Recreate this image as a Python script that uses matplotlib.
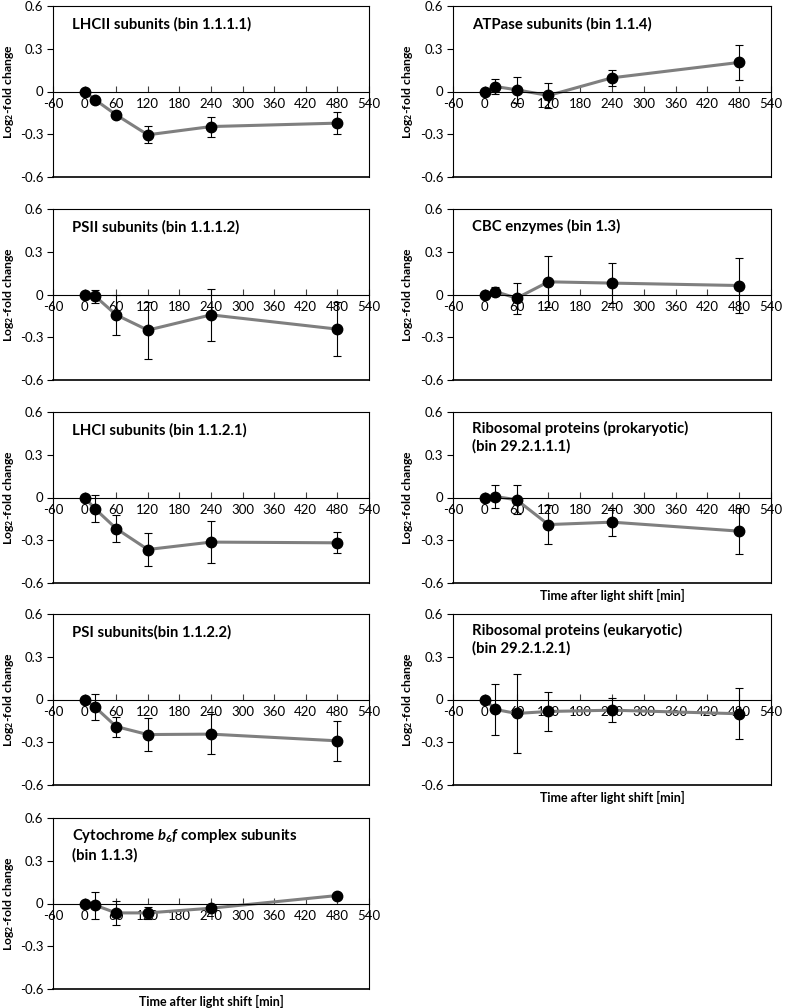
import matplotlib
matplotlib.use("Agg")
import matplotlib.pyplot as plt
import numpy as np

plt.rcParams['font.family'] = ['Lato', 'DejaVu Sans']
plt.rcParams['mathtext.fontset'] = 'custom'
plt.rcParams['mathtext.rm'] = 'Lato:bold'
plt.rcParams['mathtext.bf'] = 'Lato:bold'
plt.rcParams['mathtext.it'] = 'Lato:bold:italic'

# time points (min)
time = [0, 20, 60, 120, 240, 480]

titles = [
    "LHCII subunits (bin 1.1.1.1)",
    "ATPase subunits (bin 1.1.4)",
    "PSII subunits (bin 1.1.1.2)",
    "CBC enzymes (bin 1.3)",
    "LHCI subunits (bin 1.1.2.1)",
    "Ribosomal proteins (prokaryotic)\n(bin 29.2.1.1.1)",
    "PSI subunits(bin 1.1.2.2)",
    "Ribosomal proteins (eukaryotic)\n(bin 29.2.1.2.1)",
    "Cytochrome $b_{6}f$ complex subunits\n(bin 1.1.3)",
]

lhcii_mean = [0, -0.058, -0.164, -0.304, -0.246, -0.222]
lhcii_err = [0, 0.02, 0.025, 0.06, 0.07, 0.075]

atpase_mean = [0, 0.035, 0.012, -0.028, 0.096, 0.204]
atpase_err = [0, 0.05, 0.09, 0.09, 0.055, 0.12]

psii_mean = [0, -0.012, -0.143, -0.25, -0.143, -0.243]
psii_err = [0, 0.045, 0.14, 0.2, 0.18, 0.19]

cbc_mean = [0, 0.021, -0.026, 0.089, 0.08, 0.063]
cbc_err = [0, 0.035, 0.11, 0.18, 0.14, 0.19]

lhci_mean = [0, -0.08, -0.218, -0.365, -0.313, -0.318]
lhci_err = [0, 0.095, 0.095, 0.117, 0.15, 0.073]

ribo_prok_mean = [0, 0.007, -0.016, -0.19, -0.173, -0.236]
ribo_prok_err = [0, 0.078, 0.103, 0.135, 0.1, 0.16]

psi_mean = [0, -0.054, -0.19, -0.246, -0.243, -0.29]
psi_err = [0, 0.09, 0.07, 0.117, 0.14, 0.14]

ribo_euk_mean = [0, -0.07, -0.098, -0.084, -0.075, -0.1]
ribo_euk_err = [0, 0.18, 0.28, 0.14, 0.085, 0.18]

cyt_mean = [0, -0.012, -0.066, -0.066, -0.033, 0.056]
cyt_err = [0, 0.095, 0.085, 0.04, 0.01, 0.02]

means = [lhcii_mean, atpase_mean, psii_mean, cbc_mean, lhci_mean,
         ribo_prok_mean, psi_mean, ribo_euk_mean, cyt_mean]
errs = [lhcii_err, atpase_err, psii_err, cbc_err, lhci_err,
        ribo_prok_err, psi_err, ribo_euk_err, cyt_err]

xticks = [-60, 0, 60, 120, 180, 240, 300, 360, 420, 480, 540]
yticks = [-0.6, -0.3, 0, 0.3, 0.6]
ytick_labels = ["-0.6", "-0.3", "0", "0.3", "0.6"]

xlabel_panels = {5, 7, 8}

W, H = 797, 1008
fig = plt.figure(figsize=(W / 100, H / 100), dpi=100)

col_left = [53, 453]
col_width = [316, 318]
row_top = [6, 209, 412, 614, 818]
ax_h = 171

for i, (title, m, e) in enumerate(zip(titles, means, errs)):
    col = i % 2
    row = i // 2
    left = col_left[col] / W
    bottom = (H - row_top[row] - ax_h) / H
    ax = fig.add_axes([left, bottom, col_width[col] / W, ax_h / H])

    ax.plot(time, m, color='#7f7f7f', lw=2.2, zorder=2)
    ax.errorbar(time, m, yerr=e, fmt='none', ecolor='black', elinewidth=0.8,
                capsize=3, capthick=0.8, zorder=3)
    ax.plot(time, m, 'o', color='black', markersize=7.5, zorder=4)

    ax.set_xlim(-60, 540)
    ax.set_ylim(-0.6, 0.6)
    ax.set_xticks(xticks)
    ax.set_xticklabels([str(t) for t in xticks])
    ax.set_yticks(yticks)
    ax.set_yticklabels(ytick_labels)

    ax.spines['bottom'].set_position(('data', 0))
    for s in ax.spines.values():
        s.set_linewidth(0.8)
    ax.plot([0, 1], [0, 0], transform=ax.transAxes, color='black', lw=1.2,
            clip_on=False, zorder=5)
    ax.tick_params(axis='x', direction='in', length=4, width=0.8, pad=5,
                   labelsize=9.5, color='#404040')
    ax.tick_params(axis='y', direction='out', length=4, width=0.8, pad=3,
                   labelsize=9.5)

    ylab = ax.set_ylabel('Log$_{2}$-fold change', fontsize=8.8, fontweight='bold')
    ax.yaxis.set_label_coords(-0.118, 0.5)
    if '\n' in title:
        ax.text(0.06, 0.95, title, transform=ax.transAxes, fontsize=10.7,
                fontweight='bold', va='top', ha='left', linespacing=1.3)
    else:
        ax.text(0.06, 0.895, title, transform=ax.transAxes, fontsize=10.7,
                fontweight='bold', va='center', ha='left')

    if i in xlabel_panels:
        ax.text(0.5, -0.072, 'Time after light shift [min]', transform=ax.transAxes,
                fontsize=9, fontweight='bold', ha='center', va='center')

fig.savefig('out.png', dpi=100)
